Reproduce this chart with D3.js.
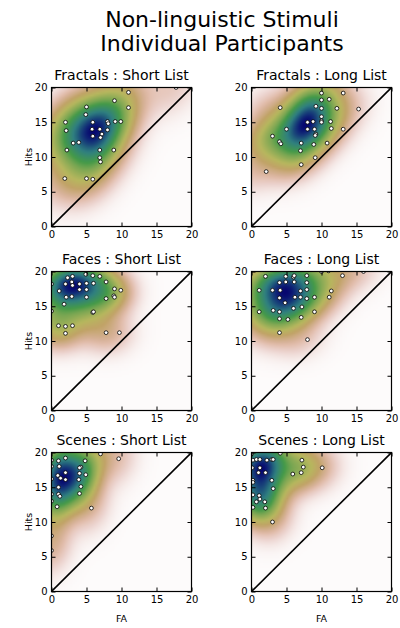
<!DOCTYPE html>
<html><head><meta charset="utf-8">
<script src="https://cdn.jsdelivr.net/npm/d3@7"></script>
<style>
body{margin:0;background:#fff}
text{font-family:"DejaVu Sans",sans-serif;fill:#000}
</style>
</head><body>
<svg id="chart" width="400" height="628"></svg>
<script>
const titleLines = ["Non-linguistic Stimuli", "Individual Participants"];
const stimuli = ["Fractals", "Faces", "Scenes"];
const lists = ["Short List", "Long List"];
const tickValues = [0, 5, 10, 15, 20];
const xLabel = "FA", yLabel = "Hits";

// [FA, Hits] per participant
const fractalsShort = [[11,19.3],[9,18.1],[11,17.1],[5,17.2],[4.9,16.1],[2,15],[2.1,13.8],[5.9,15],[5.8,14],[6.9,14],[5.9,13],[7.2,13.3],[7,12.8],[8,15.1],[8.1,14.8],[8,13.9],[9.1,15.1],[9.9,15.1],[3.1,12],[3.9,12.1],[2.2,11],[6.9,11],[8.9,11],[6.9,9.9],[7,9.3],[1.9,6.9],[5,6.9],[5.9,6.8],[17.8,20]];
const fractalsLong = [[10,19.2],[13.1,19.2],[11.1,18.3],[10,18.2],[9.2,17.3],[10,17],[12.2,17],[4.1,17.1],[15.3,16.9],[10,15.8],[10,15.2],[10,15],[11.3,15.1],[8,15],[8.8,15.1],[5,14],[8,14],[9,14],[11.4,14.1],[13.1,14],[9.2,13.3],[9.1,13.1],[3,13],[4,12.2],[4.2,11.9],[7.1,12],[10.8,12],[8.9,11.8],[7,10.9],[9.1,9.9],[7.1,8.9],[2.1,7.9]];
const facesShort = [[0,18.2],[0,14.3],[2.3,19.1],[3,19.3],[4.9,19.6],[5.9,19.4],[6.9,19.3],[2,18.2],[2.9,18.5],[3,18],[4,18.2],[5,18.3],[6,18.3],[7.8,18.5],[1.1,17.2],[4,17.4],[5,17.4],[9,17.5],[9.9,17.3],[2.1,16.3],[2.9,16.4],[5,16.3],[7.8,16.1],[8.9,16.5],[9,16.3],[1.8,15.3],[5.9,14.1],[6,14.2],[1,12.2],[2,12.1],[3,12.2],[2,11.1],[7.8,11.2],[9.7,11.2]];
const facesLong = [[10,20],[11,20.1],[16,20],[2,19.3],[4.9,19.3],[6,19.2],[6.1,19.4],[7.9,19.4],[13,19.4],[4,18.4],[4.9,18.5],[6.1,18.5],[7.9,18.4],[1.1,17.3],[3,17.3],[4.1,17.3],[7,17.2],[7.9,17.4],[11.4,17.2],[4,16.2],[6.2,16.3],[7,16.3],[7.9,16.1],[9,16.3],[11.1,16.3],[4.8,15.5],[3.1,14.4],[4,14.2],[6,14.7],[7.2,14.9],[1.1,14.2],[9,14.2],[4,13.2],[5.2,13.1],[7.1,13.4],[4,11.2],[8,10.2]];
const scenesShort = [[7,19.8],[9.6,19.1],[0,18.9],[1,18.8],[2,19.2],[1.1,18],[0,18],[4.8,18.8],[4.2,17.9],[4,17.8],[2,17.1],[0.9,16.7],[1.3,16.3],[4,17],[4.9,16.8],[0,16.2],[2,16.1],[3.9,16.1],[4.2,15.1],[1,15],[0,14],[0,13],[1,14],[1.2,13.7],[4,14.1],[0.8,12.2],[5.7,12],[0,8],[0,5.9]];
const scenesLong = [[0,19.8],[0.2,18.9],[0.7,19],[1.2,19],[2.2,18.9],[2.9,19],[3.1,19],[4.1,19.9],[7.2,18.9],[7.4,17.9],[10.1,17.8],[0.1,17.8],[1.2,17.8],[1,17.1],[2,17.1],[5.9,16.9],[7.1,17.1],[0.2,16],[2.9,16],[0.2,15.7],[3.1,14.8],[0.2,13.9],[1.1,13.8],[1.2,13.3],[0.7,12.9],[1.9,12.9],[0.2,12.1],[2,12],[3,10]];

const panels = [[fractalsShort, fractalsLong], [facesShort, facesLong], [scenesShort, scenesLong]];
// rendering offset (FA units) of each density image, as seen in the reference
const densityShiftX = [[-0.8, -1.8], [-0.9, -1.3], [0, 0]];

// gist_earth colormap stops (used reversed)
const cmT = [0, 0.0275, 0.11, 0.2078, 0.2824, 0.4588, 0.549, 0.698, 0.7882, 0.8667, 0.8941, 0.9412, 1];
const cmC = ["rgb(0,0,0)","rgb(5,0,110)","rgb(19,48,120)","rgb(35,98,124)","rgb(48,128,128)","rgb(69,154,72)","rgb(120,166,82)","rgb(183,183,94)","rgb(193,163,103)","rgb(215,178,152)","rgb(225,188,170)","rgb(236,211,206)","rgb(253,251,251)"];
const cmap = d3.scaleLinear().domain(cmT).range(cmC).interpolate(d3.interpolateRgb).clamp(true);

const svg = d3.select("#chart");
const colX = [51.5, 251.5], rowY = [87.5, 271.5, 452.5];
const W = 140, H = 139;

svg.append("text").attr("x", 222).attr("y", 27).attr("text-anchor", "middle")
  .style("font-size", "22px").text(titleLines[0]);
svg.append("text").attr("x", 222).attr("y", 51).attr("text-anchor", "middle")
  .style("font-size", "22px").text(titleLines[1]);

function kde(points) {
  const n = points.length;
  const mx = d3.mean(points, d => d[0]), my = d3.mean(points, d => d[1]);
  let sxx = 0, syy = 0, sxy = 0;
  points.forEach(p => { const dx = p[0]-mx, dy = p[1]-my; sxx += dx*dx; syy += dy*dy; sxy += dx*dy; });
  sxx /= (n-1); syy /= (n-1); sxy /= (n-1);
  const f = Math.pow(n, -1/6) * 1.35;
  const a = sxx*f*f, b = 0.4*sxy*f*f, c = syy*f*f;
  const det = a*c - b*b;
  const ia = c/det, ib = -b/det, ic = a/det;
  return (x, y) => {
    let s = 0;
    for (const p of points) {
      const dx = x - p[0], dy = y - p[1];
      s += Math.exp(-0.5*(ia*dx*dx + 2*ib*dx*dy + ic*dy*dy));
    }
    return s;
  };
}

let clipId = 0;
panels.forEach((row, r) => {
  row.forEach((pts, c) => {
    const x0 = colX[c], y0 = rowY[r];
    const x = d3.scaleLinear().domain([0, 20]).range([0, W]);
    const y = d3.scaleLinear().domain([0, 20]).range([H, 0]);
    const g = svg.append("g").attr("transform", `translate(${x0},${y0})`);

    // density image
    const N = 80;
    const dens = kde(pts);
    const sh = densityShiftX[r][c];
    const vals = [];
    for (let j = 0; j < N; j++) for (let i = 0; i < N; i++) {
      const dx = (i + 0.5) / N * 20 - sh, dy = 20 - (j + 0.5) / N * 20;
      vals.push(dens(dx, dy));
    }
    const vmax = d3.max(vals) * 1.04;
    const cv = document.createElement("canvas");
    cv.width = N; cv.height = N;
    const ctx = cv.getContext("2d");
    const img = ctx.createImageData(N, N);
    vals.forEach((v, k) => {
      const col = d3.rgb(cmap(1 - v / vmax));
      img.data[4*k] = col.r; img.data[4*k+1] = col.g; img.data[4*k+2] = col.b; img.data[4*k+3] = 255;
    });
    ctx.putImageData(img, 0, 0);
    g.append("image").attr("href", cv.toDataURL()).attr("x", 0).attr("y", 0)
      .attr("width", W).attr("height", H).attr("preserveAspectRatio", "none");

    const id = "clip" + (clipId++);
    g.append("clipPath").attr("id", id).append("rect").attr("width", W).attr("height", H);
    const inner = g.append("g").attr("clip-path", `url(#${id})`);

    inner.append("line").attr("x1", x(0)).attr("y1", y(0)).attr("x2", x(20)).attr("y2", y(20))
      .attr("stroke", "#000").attr("stroke-width", 1.6);

    inner.selectAll("circle").data(pts).join("circle")
      .attr("cx", d => x(d[0])).attr("cy", d => y(d[1])).attr("r", 1.9)
      .attr("fill", "#fff").attr("stroke", "#000").attr("stroke-width", 0.8);

    const styleAxis = sel => {
      sel.select(".domain").remove();
      sel.selectAll(".tick line").attr("stroke", "#000").attr("stroke-width", 1);
      sel.selectAll(".tick text").style("font-size", "10px").attr("fill", "#000");
    };
    g.append("g").call(d3.axisLeft(y).tickValues(tickValues).tickSizeInner(-4).tickSizeOuter(0).tickPadding(4)).call(styleAxis);
    g.append("g").attr("transform", `translate(0,${H})`)
      .call(d3.axisBottom(x).tickValues(tickValues).tickSizeInner(-4).tickSizeOuter(0).tickPadding(4)).call(styleAxis);
    g.append("g").call(d3.axisTop(x).tickValues(tickValues).tickSizeInner(-4).tickSizeOuter(0).tickFormat("")).call(styleAxis);
    g.append("g").attr("transform", `translate(${W},0)`)
      .call(d3.axisRight(y).tickValues(tickValues).tickSizeInner(-4).tickSizeOuter(0).tickFormat("")).call(styleAxis);

    g.append("rect").attr("width", W).attr("height", H).attr("fill", "none")
      .attr("stroke", "#000").attr("stroke-width", 1.2);

    g.append("text").attr("x", W/2).attr("y", -8).attr("text-anchor", "middle")
      .style("font-size", "14px").text(`${stimuli[r]} : ${lists[c]}`);

    if (c === 0) {
      g.append("text").attr("transform", `translate(-20,${H/2}) rotate(-90)`)
        .attr("text-anchor", "middle").style("font-size", "9.5px").text(yLabel);
    }
    if (r === 2) {
      g.append("text").attr("x", W/2).attr("y", H + 30).attr("text-anchor", "middle")
        .style("font-size", "9.5px").text(xLabel);
    }
  });
});
</script>
</body></html>
